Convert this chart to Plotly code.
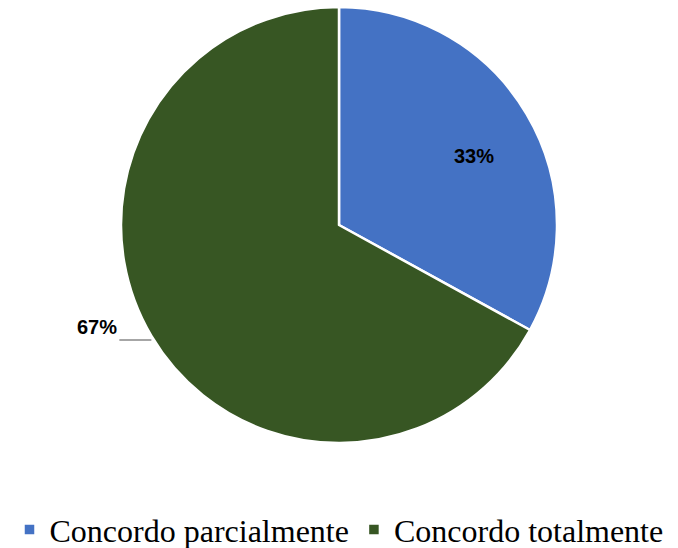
import math
import plotly.graph_objects as go

labels = ["Concordo parcialmente", "Concordo totalmente"]
values = [33, 67]
colors = ["#4472C4", "#375623"]

W, H = 678, 548
mt, mb = 7, 105
ph = H - mt - mb

total = sum(values)
pct = [round(v / total * 100) for v in values]

fig = go.Figure(go.Pie(
    labels=labels,
    values=values,
    sort=False,
    direction="clockwise",
    rotation=0,
    marker=dict(colors=colors, line=dict(color="white", width=2.5)),
    textinfo="none",
    hoverinfo="label+percent",
    showlegend=True,
))

r_px = ph / 2
angles = []
acc = 0
for v in values:
    angles.append(math.radians((acc + v / 2) / total * 360))
    acc += v

# inside label for the first slice
a0 = angles[0]
fig.add_annotation(
    x=0.5 + math.sin(a0) * 0.72 * r_px / W,
    y=0.5 + math.cos(a0) * 0.62 * r_px / ph,
    xref="paper", yref="paper", showarrow=False,
    xanchor="center", yanchor="middle",
    text=f"<b>{pct[0]}%</b>",
    font=dict(family="Liberation Sans", size=20, color="black"),
)

# outside label for the second slice with a leader line
a1 = angles[1]
ex = 0.5 + math.sin(a1) * r_px / W
ey = 0.5 + math.cos(a1) * r_px / ph
fig.add_annotation(
    x=ex, y=ey - 4 / ph, xref="paper", yref="paper",
    text=f"<b>{pct[1]}%</b>",
    showarrow=True, arrowhead=0, arrowwidth=2, arrowcolor="#A6A6A6",
    ax=-32, ay=0, xanchor="right", yanchor="bottom",
    font=dict(family="Liberation Sans", size=20, color="black"),
)

fig.update_layout(
    width=W, height=H,
    margin=dict(l=0, r=0, t=mt, b=mb, autoexpand=False),
    paper_bgcolor="white",
    plot_bgcolor="white",
    legend=dict(
        orientation="h", x=0.5, xanchor="center", y=-0.199, yanchor="middle",
        font=dict(family="Liberation Serif", size=32, color="black"),
    ),
)

fig.write_html(
    "out.html",
    config={"displayModeBar": False},
    post_script="document.body.style.margin='0';document.body.style.overflow='hidden';",
)
